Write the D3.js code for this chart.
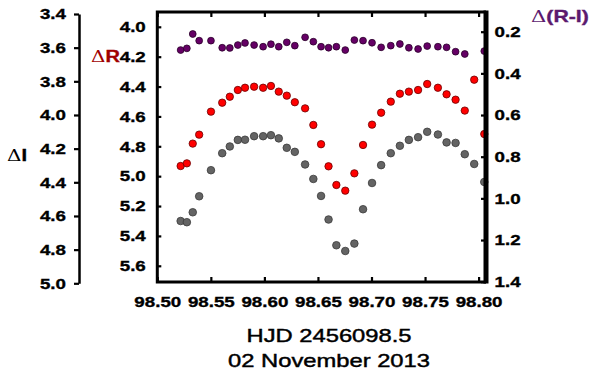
<!DOCTYPE html>
<html>
<head>
<meta charset="utf-8">
<script src="https://cdn.jsdelivr.net/npm/d3@7"></script>
<style>
  body { margin: 0; background: #fff; }
  svg text { font-family: "Liberation Sans", Arial, sans-serif; }
</style>
</head>
<body>
<svg id="chart" width="589" height="373"></svg>
<script>
// HJD - 2456000 (days)
var hjd = [98.5218, 98.5276, 98.5331, 98.5391, 98.5501, 98.5606, 98.5677, 98.5752, 98.5819, 98.5904,
           98.5988, 98.6061, 98.6134, 98.6209, 98.6284, 98.6380, 98.6457, 98.6529, 98.6599, 98.6672,
           98.6755, 98.6840, 98.6921, 98.7005, 98.7090, 98.7180, 98.7265, 98.7349, 98.7435, 98.7520,
           98.7620, 98.7701, 98.7785, 98.7871, 98.7959, 98.8053];

var deltaR = [4.932, 4.914, 4.782, 4.722, 4.568, 4.508, 4.468, 4.423, 4.408, 4.401,
              4.408, 4.396, 4.434, 4.461, 4.505, 4.546, 4.657, 4.786, 4.934, 5.059,
              5.097, 4.981, 4.791, 4.655, 4.575, 4.501, 4.448, 4.434, 4.423, 4.383,
              4.408, 4.452, 4.488, 4.561, 4.354, 4.718];

var deltaI = [4.630, 4.637, 4.578, 4.483, 4.328, 4.227, 4.187, 4.148, 4.147, 4.126,
              4.126, 4.120, 4.139, 4.195, 4.219, 4.294, 4.380, 4.481, 4.621, 4.774,
              4.808, 4.764, 4.560, 4.404, 4.298, 4.227, 4.183, 4.148, 4.132, 4.100,
              4.116, 4.163, 4.166, 4.233, 4.291, 4.398];

var deltaRI = [0.288, 0.280, 0.211, 0.243, 0.243, 0.277, 0.278, 0.264, 0.254, 0.264,
               0.272, 0.260, 0.272, 0.251, 0.267, 0.227, 0.248, 0.272, 0.277, 0.272,
               0.288, 0.240, 0.243, 0.253, 0.275, 0.267, 0.259, 0.277, 0.283, 0.269,
               0.272, 0.275, 0.296, 0.307, null, 0.293];

var xTicks = [98.50, 98.55, 98.60, 98.65, 98.70, 98.75, 98.80];
var iTicks = [3.4, 3.6, 3.8, 4.0, 4.2, 4.4, 4.6, 4.8, 5.0];
var rTicks = [4.0, 4.2, 4.4, 4.6, 4.8, 5.0, 5.2, 5.4, 5.6];
var riTicks = [0.2, 0.4, 0.6, 0.8, 1.0, 1.2, 1.4];

// box and styles
var BOX_L = 157.3, BOX_R = 486, BOX_T = 12, BOX_B = 282;
var SX = 1.25;   // picture is stretched sideways, so is the text
var GRAY = "#646464", RED = "#ff0000", PURPLE = "#650065";

var svg = d3.select("#chart");

var x = d3.scaleLinear().domain([98.50, 98.80]).range([157.3, 478.6]);
var yI = d3.scaleLinear().domain([3.4, 5.0]).range([14, 283.3]);
var yR = d3.scaleLinear().domain([4.0, 5.6]).range([26.8, 265.8]);
var yRI = d3.scaleLinear().domain([0.2, 1.4]).range([31.7, 281.7]);

function stretch(sel) {
    sel.each(function() {
        var t = d3.select(this);
        var tx = +t.attr("x") || 0, ty = +t.attr("y") || 0;
        t.attr("x", 0).attr("y", 0)
         .attr("transform", "translate(" + tx + "," + ty + ") scale(" + SX + ",1)");
    });
}

function styleAxis(g, size) {
    g.selectAll("text")
        .attr("fill", "#000")
        .attr("stroke", "#000")
        .attr("stroke-width", 0.35)
        .style("font-family", "'Liberation Sans', Arial, sans-serif")
        .style("font-weight", "bold")
        .style("font-size", size + "px");
    g.selectAll(".tick line").attr("stroke", "#000").attr("stroke-width", 2.2);
}

// points
function drawSeries(vals, yScale, fill, stroke, r) {
    svg.append("g").selectAll("circle")
        .data(vals.map(function(v, i) { return {x: hjd[i], y: v}; })
                  .filter(function(d) { return d.y !== null; }))
        .enter().append("circle")
        .attr("cx", function(d) { return x(d.x); })
        .attr("cy", function(d) { return yScale(d.y); })
        .attr("r", r)
        .attr("fill", fill)
        .attr("stroke", stroke)
        .attr("stroke-width", 0.8);
}
drawSeries(deltaRI, yRI, PURPLE, "#2a002a", 3.4);
drawSeries(deltaR, yR, RED, "#6a0000", 3.7);
drawSeries(deltaI, yI, GRAY, "#3a3a3a", 3.8);

// outer dI axis
var gI = svg.append("g").attr("transform", "translate(79,0)")
    .call(d3.axisLeft(yI).tickValues(iTicks).tickFormat(d3.format(".1f"))
          .tickSize(5).tickSizeOuter(0).tickPadding(8));
gI.select(".domain").attr("stroke", "#000").attr("stroke-width", 2.5);
styleAxis(gI, 15);
stretch(gI.selectAll("text"));

// inner dR axis on the box's left side
var gR = svg.append("g").attr("transform", "translate(" + BOX_L + ",0)")
    .call(d3.axisLeft(yR).tickValues(rTicks).tickFormat(d3.format(".1f"))
          .tickSizeInner(-4).tickSizeOuter(0).tickPadding(11.5));
gR.select(".domain").remove();
styleAxis(gR, 15);
stretch(gR.selectAll("text"));

// right d(R-I) axis
var gRI = svg.append("g").attr("transform", "translate(" + BOX_R + ",0)")
    .call(d3.axisRight(yRI).tickValues(riTicks).tickFormat(d3.format(".1f"))
          .tickSizeInner(-5).tickSizeOuter(0).tickPadding(8.5));
gRI.select(".domain").remove();
styleAxis(gRI, 15);
stretch(gRI.selectAll("text"));

// x axes, bottom with labels, top only ticks
var gX = svg.append("g").attr("transform", "translate(0," + BOX_B + ")")
    .call(d3.axisBottom(x).tickValues(xTicks).tickFormat(d3.format(".2f"))
          .tickSizeInner(-5).tickSizeOuter(0).tickPadding(14));
gX.select(".domain").remove();
styleAxis(gX, 15);
stretch(gX.selectAll("text"));

var gXt = svg.append("g").attr("transform", "translate(0," + BOX_T + ")")
    .call(d3.axisTop(x).tickValues(xTicks).tickFormat("")
          .tickSizeInner(-5).tickSizeOuter(0));
gXt.select(".domain").remove();
styleAxis(gXt, 15);

// box
svg.append("path")
    .attr("d", "M" + BOX_R + "," + BOX_T + "H" + BOX_L + "V" + BOX_B + "H" + BOX_R)
    .attr("fill", "none").attr("stroke", "#000").attr("stroke-width", 3);
svg.append("line")
    .attr("x1", BOX_R).attr("x2", BOX_R).attr("y1", BOX_T - 1.5).attr("y2", BOX_B + 1.5)
    .attr("stroke", "#000").attr("stroke-width", 5);

// axis names
function label(txt1, txt2, px, py, size, color) {
    var t = svg.append("text").attr("x", px).attr("y", py)
        .attr("fill", color).style("font-size", size + "px");
    t.append("tspan").style("font-family", "'DejaVu Serif', serif").style("font-weight", "normal").text(txt1);
    t.append("tspan").style("font-weight", "bold")
        .attr("stroke", color).attr("stroke-width", 0.35).text(txt2);
    stretch(t);
}
label("\u0394", "I", 7, 161, 16, "#000");
label("\u0394", "R", 91, 62, 16, "#a00000");
label("\u0394", "(R-I)", 531, 22, 17, "#5c1a6e");

// title
var titles = ["HJD 2456098.5", "02 November 2013"];
svg.append("g").selectAll("text")
    .data(titles).enter().append("text")
    .attr("x", 329)
    .attr("y", function(d, i) { return 341.7 + i * 25; })
    .attr("text-anchor", "middle")
    .attr("fill", "#000")
    .attr("stroke", "#000")
    .attr("stroke-width", 0.45)
    .style("font-size", "19px")
    .text(function(d) { return d; })
    .call(stretch);
</script>
</body>
</html>
